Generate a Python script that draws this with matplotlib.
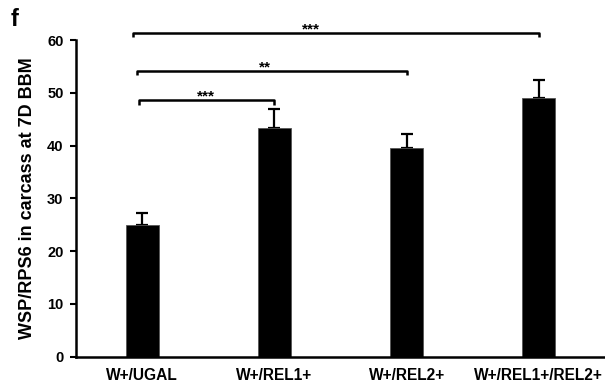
import matplotlib
matplotlib.use("Agg")
import matplotlib.pyplot as plt

categories = ["W+/UGAL", "W+/REL1+", "W+/REL2+", "W+/REL1+/REL2+"]
values = [25.0, 43.4, 39.6, 49.0]
errors = [2.3, 3.6, 2.6, 3.4]
yticks = [0, 10, 20, 30, 40, 50, 60]
# brackets: (start index, end index, height, label, label x)
brackets = [(0, 3, 61.4, "***", 1.28), (0, 2, 54.2, "**", 0.93), (0, 1, 48.6, "***", 0.48)]

plt.rcParams['font.family'] = ['Liberation Sans', 'DejaVu Sans']
fig = plt.figure(figsize=(6.05, 3.86), dpi=100)
ax = fig.add_axes([76/605, (386-356.7)/386, 1 - 76/605, (356.7-40)/386])

x = list(range(len(categories)))
ax.bar(x, values, width=0.25, color='black', edgecolor='#555555', linewidth=0.6, zorder=2)
ax.errorbar(x, values, yerr=[[0]*len(errors), errors], fmt='none', ecolor='black',
            elinewidth=1.6, capsize=4, capthick=1.6, zorder=1)

ax.set_xlim(-0.5, 3.5)
ax.set_ylim(0, 60)
ax.set_yticks(yticks)
ax.set_yticklabels([str(t) for t in yticks], fontsize=10.5, fontweight='bold')
ax.set_xticks(x)
ax.set_xticklabels(categories, fontsize=11.2, fontweight='bold')
ax.tick_params(axis='x', length=0, pad=8)
ax.tick_params(axis='y', length=4, width=1.5, pad=5, direction='out')
for s in ['top', 'right']:
    ax.spines[s].set_visible(False)
for s in ['left', 'bottom']:
    ax.spines[s].set_linewidth(1.8)
ax.set_ylabel("WSP/RPS6 in carcass at 7D BBM", fontsize=13, fontweight='bold', labelpad=8)

offsets = [-0.07, -0.04, -0.02]
for (i, j, h, lab, lx), off in zip(brackets, offsets):
    xs = [i + off, i + off, j, j]
    ys = [h - 0.9, h, h, h - 0.9]
    ax.plot(xs, ys, color='black', linewidth=1.8, clip_on=False, solid_capstyle='butt')
    ax.text(lx, h - 0.1, lab, ha='center', va='baseline', fontsize=11, fontweight='bold')

fig.text(11/605, 1 - 19/386, "f", fontsize=17, fontweight='bold', va='center', ha='left')

fig.savefig("out.png", dpi=100)
